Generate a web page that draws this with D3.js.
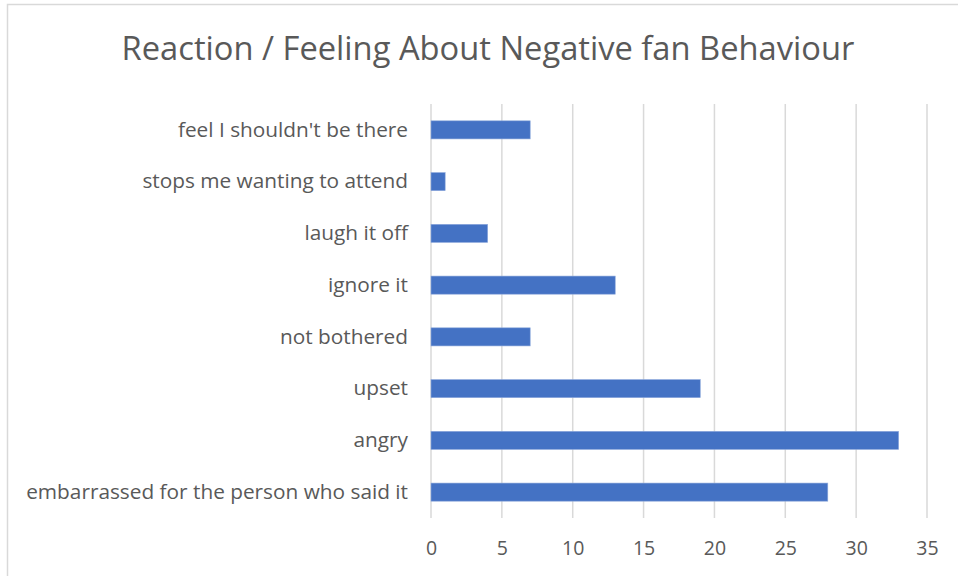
<!DOCTYPE html>
<html>
<head>
<meta charset="utf-8">
<script src="https://cdn.jsdelivr.net/npm/d3@7"></script>
<style>
  html, body { margin: 0; padding: 0; background: #fff; }
  svg { display: block; font-family: "Open Sans", sans-serif; }
</style>
</head>
<body>
<svg id="chart" width="958" height="576"></svg>
<script>
// Responses, listed top to bottom
const categories = [
  "feel I shouldn't be there",
  "stops me wanting to attend",
  "laugh it off",
  "ignore it",
  "not bothered",
  "upset",
  "angry",
  "embarrassed for the person who said it"
];
const counts = [7, 1, 4, 13, 7, 19, 33, 28];
const xTicks = [0, 5, 10, 15, 20, 25, 30, 35];
const titleText = "Reaction / Feeling About Negative fan Behaviour";

const svg = d3.select("#chart");
const W = 958, H = 576;
const margin = { left: 431, right: 31, top: 104, bottom: 58 };
const innerW = W - margin.left - margin.right;
const innerH = H - margin.top - margin.bottom;
const textColor = "#595959";
const fontFam = "'Open Sans', sans-serif";

// chart frame
svg.append("rect")
  .attr("x", 7.5).attr("y", 4.5)
  .attr("width", W + 10).attr("height", H + 10)
  .attr("fill", "#fff").attr("stroke", "#d9d9d9").attr("stroke-width", 1.5);

svg.append("text")
  .attr("x", 488).attr("y", 60)
  .attr("text-anchor", "middle")
  .attr("font-size", 32.7)
  .attr("font-family", fontFam)
  .attr("fill", textColor)
  .text(titleText);

const x = d3.scaleLinear().domain([0, 35]).range([0, innerW]);
const y = d3.scaleBand().domain(categories).range([0, innerH]).paddingInner(0.65).paddingOuter(0.325);

const g = svg.append("g").attr("transform", `translate(${margin.left},${margin.top})`);

// vertical gridlines
g.append("g").selectAll("line")
  .data(xTicks)
  .join("line")
  .attr("x1", d => x(d)).attr("x2", d => x(d))
  .attr("y1", 0).attr("y2", innerH)
  .attr("stroke", "#d9d9d9").attr("stroke-width", 1.5);

// bars
g.append("g").selectAll("rect")
  .data(categories)
  .join("rect")
  .attr("x", x(0))
  .attr("y", d => y(d))
  .attr("width", (d, i) => x(counts[i]) - x(0))
  .attr("height", y.bandwidth())
  .attr("fill", "#4472c4")
  .attr("stroke", "#8faadc").attr("stroke-width", 0.6);

// x axis labels
const xAxis = d3.axisBottom(x).tickValues(xTicks).tickSize(0).tickPadding(23);
g.append("g")
  .attr("transform", `translate(0,${innerH})`)
  .call(xAxis)
  .call(s => s.select(".domain").remove())
  .call(s => s.selectAll("text").attr("fill", textColor).attr("font-size", 19.5).attr("font-family", fontFam));

// category labels
const yAxis = d3.axisLeft(y).tickSize(0).tickPadding(23);
g.append("g")
  .call(yAxis)
  .call(s => s.select(".domain").remove())
  .call(s => s.selectAll("text").attr("fill", textColor).attr("font-size", 20.8).attr("font-family", fontFam));
</script>
</body>
</html>
